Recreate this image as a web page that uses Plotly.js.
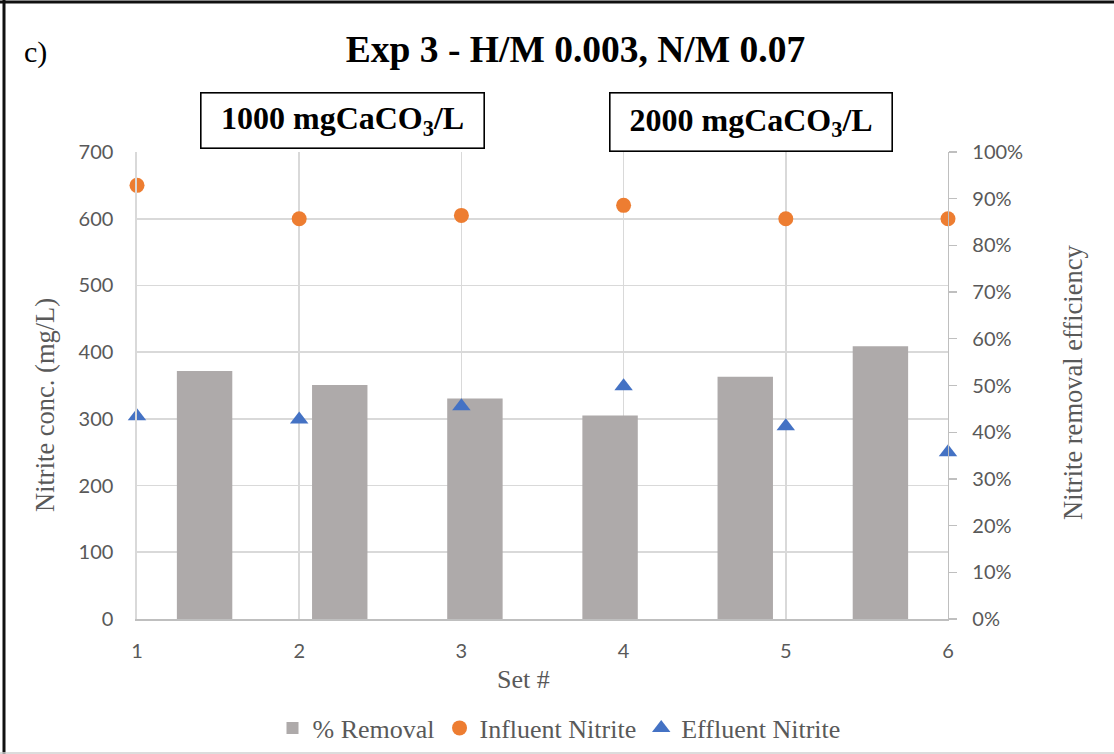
<!DOCTYPE html>
<html>
<head>
<meta charset="utf-8">
<script src="https://cdn.plot.ly/plotly-3.0.1.min.js"></script>
<style>html,body{margin:0;padding:0;background:#fff;}#chart{width:1114px;height:754px;}</style>
</head>
<body>
<div id="chart"></div>
<script>
// ---- data ----
const sets = [1, 2, 3, 4, 5, 6];
const setCategories = ['1', '2', '3', '4', '5', '6'];
const removalPct = [0.531, 0.501, 0.472, 0.436, 0.519, 0.584];
const influentNitrite = [650, 600, 605, 620, 600, 600];
const effluentNitrite = [304, 299, 319, 349, 289, 250];
const leftTicks = [0, 100, 200, 300, 400, 500, 600, 700];

// ---- geometry helpers (pixels -> paper) ----
const W = 1114, H = 754;
const L = 137, R = 948, T = 152, B = 619;
const px = x => (x - L) / (R - L);
const py = y => (B - y) / (B - T);

const serif = 'Liberation Serif, Times New Roman, serif';
const sans = 'Lato, Calibri, sans-serif';
const grey = '#595959';

const traces = [
  {
    type: 'bar', name: '% Removal',
    x: setCategories, y: removalPct,
    xaxis: 'x', yaxis: 'y',
    width: 0.41,
    marker: {color: '#AEAAAA'},
    hoverinfo: 'y'
  },
  {
    type: 'scatter', mode: 'markers', name: 'Influent Nitrite',
    x: sets, y: influentNitrite,
    xaxis: 'x2', yaxis: 'y2', cliponaxis: false,
    marker: {symbol: 'circle', size: 15, color: '#ED7D31'}
  },
  {
    type: 'scatter', mode: 'markers', name: 'Effluent Nitrite',
    x: sets, y: effluentNitrite,
    xaxis: 'x2', yaxis: 'y2', cliponaxis: false,
    marker: {symbol: 'triangle-up', size: 16, color: '#4472C4'}
  }
];

const layout = {
  width: W, height: H,
  margin: {l: L, r: W - R, t: T, b: H - B, pad: 0, autoexpand: false},
  paper_bgcolor: '#ffffff', plot_bgcolor: '#ffffff',
  showlegend: true,
  title: {
    text: '<b>Exp 3 - H/M 0.003, N/M 0.07</b>',
    font: {family: serif, size: 37.5, color: '#000000'},
    x: 575.5 / W, xanchor: 'center',
    y: 1 - 49 / H, yanchor: 'middle'
  },
  xaxis: {
    type: 'category', range: [-0.5, 5.5],
    showgrid: false, zeroline: false, showline: false,
    showticklabels: false, ticks: ''
  },
  yaxis: {
    range: [0, 1], side: 'right', dtick: 0.1, tick0: 0,
    tickformat: '.0%',
    showgrid: false, zeroline: false,
    showline: true, linecolor: '#BFBFBF', linewidth: 1.3,
    ticks: 'outside', ticklen: 8, tickcolor: '#BFBFBF', tickwidth: 1.3,
    ticklabelstandoff: 11,
    tickfont: {family: sans, size: 20, color: grey}
  },
  xaxis2: {
    overlaying: 'x', anchor: 'y2', side: 'bottom',
    range: [1, 6], tickvals: sets, ticktext: setCategories,
    showgrid: true, gridcolor: '#D9D9D9', gridwidth: 1.6,
    zeroline: false,
    showline: true, linecolor: '#BFBFBF', linewidth: 1.6,
    ticks: '', ticklabelstandoff: 13,
    tickfont: {family: sans, size: 20, color: grey}
  },
  yaxis2: {
    overlaying: 'y', anchor: 'x2', side: 'left',
    range: [0, 700], tickvals: leftTicks,
    showgrid: true, gridcolor: '#D9D9D9', gridwidth: 1.6,
    zeroline: false, showline: true, linecolor: '#D9D9D9', linewidth: 1.6,
    ticks: '', ticklabelstandoff: 18,
    tickfont: {family: sans, size: 20, color: grey}
  },
  legend: {
    orientation: 'h',
    x: px(559), xanchor: 'center',
    y: py(728), yanchor: 'middle',
    font: {family: serif, size: 26, color: grey},
    bgcolor: 'rgba(0,0,0,0)',
    itemwidth: 30,
    traceorder: 'normal'
  },
  annotations: [
    {
      text: 'c)', xref: 'paper', yref: 'paper',
      x: px(22), xanchor: 'left', y: py(52), yanchor: 'middle',
      showarrow: false, font: {family: serif, size: 30, color: '#000000'}
    },
    {
      text: '<b>1000 mgCaCO<sub>3</sub>/L</b>', xref: 'paper', yref: 'paper',
      x: px(342.5), xanchor: 'center', y: py(121), yanchor: 'middle',
      showarrow: false, width: 280, height: 52,
      bordercolor: '#000000', borderwidth: 1.6, bgcolor: '#ffffff',
      font: {family: serif, size: 32, color: '#000000'}
    },
    {
      text: '<b>2000 mgCaCO<sub>3</sub>/L</b>', xref: 'paper', yref: 'paper',
      x: px(751), xanchor: 'center', y: py(122.5), yanchor: 'middle',
      showarrow: false, width: 279, height: 55,
      bordercolor: '#000000', borderwidth: 1.6, bgcolor: '#ffffff',
      font: {family: serif, size: 32, color: '#000000'}
    },
    {
      text: 'Nitrite conc. (mg/L)', xref: 'paper', yref: 'paper',
      x: px(45), xanchor: 'center', y: py(405), yanchor: 'middle',
      textangle: -90, showarrow: false,
      font: {family: serif, size: 26.5, color: grey}
    },
    {
      text: 'Nitrite removal efficiency', xref: 'paper', yref: 'paper',
      x: px(1073), xanchor: 'center', y: py(383), yanchor: 'middle',
      textangle: -90, showarrow: false,
      font: {family: serif, size: 26.5, color: grey}
    },
    {
      text: 'Set #', xref: 'paper', yref: 'paper',
      x: px(523), xanchor: 'center', y: py(679), yanchor: 'middle',
      showarrow: false,
      font: {family: serif, size: 26, color: grey}
    }
  ],
  shapes: [
    {type: 'line', xref: 'paper', yref: 'paper', x0: px(0), x1: px(W), y0: py(2), y1: py(2),
     line: {color: '#111111', width: 3}},
    {type: 'line', xref: 'paper', yref: 'paper', x0: px(4), x1: px(4), y0: py(0), y1: py(H),
     line: {color: '#111111', width: 3}},
    {type: 'line', xref: 'paper', yref: 'paper', x0: px(0), x1: px(W), y0: py(753), y1: py(753),
     line: {color: '#D0D0D0', width: 1.5}}
  ]
};

Plotly.newPlot('chart', traces, layout, {displayModeBar: false, staticPlot: true});
</script>
</body>
</html>
